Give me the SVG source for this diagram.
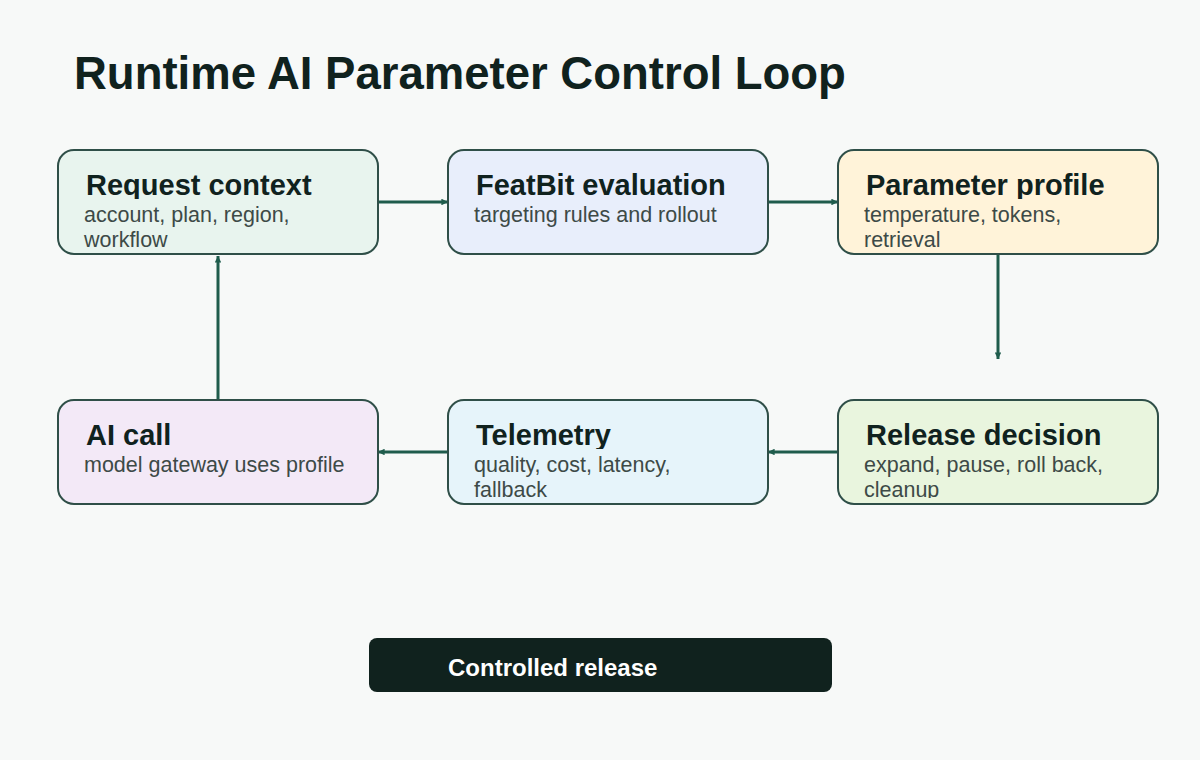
<svg xmlns="http://www.w3.org/2000/svg" width="1200" height="760" viewBox="0 0 1200 760">
<defs>
<marker id="ah" viewBox="0 0 6 6" refX="6" refY="3" markerWidth="2.2" markerHeight="2.2" orient="auto"><path d="M0,0 L6,3 L0,6 z" fill="#1f5c4c"/></marker>
<clipPath id="ct1"><rect x="0" y="0" width="1200" height="199"/></clipPath>
<clipPath id="ct2"><rect x="0" y="0" width="1200" height="449"/></clipPath>
<clipPath id="cs1"><rect x="0" y="0" width="1200" height="248"/></clipPath>
<clipPath id="cs2"><rect x="0" y="0" width="1200" height="498"/></clipPath>
<style>
.node{stroke:#2f4f48;stroke-width:2}
.t{font-family:"Liberation Sans",Arial,sans-serif;font-weight:bold;font-size:29px;fill:#10221e}
.s{font-family:"Liberation Sans",Arial,sans-serif;font-size:21.5px;fill:#3d4a47}
.c{stroke:#1f5c4c;stroke-width:3;fill:none;marker-end:url(#ah)}
</style>
</defs>
<rect width="1200" height="760" fill="#f7f9f8"/>
<text x="74" y="89" font-family="Liberation Sans,Arial,sans-serif" font-weight="bold" font-size="45.5" fill="#10221e">Runtime AI Parameter Control Loop</text>
<g id="connectors">
<line class="c" x1="378" y1="202" x2="448" y2="202"/>
<line class="c" x1="768" y1="202" x2="838" y2="202"/>
<line class="c" x1="998" y1="254" x2="998" y2="359"/>
<line class="c" x1="838" y1="452" x2="768" y2="452"/>
<line class="c" x1="448" y1="452" x2="378" y2="452"/>
<line class="c" x1="218" y1="400" x2="218" y2="256"/>
</g>
<g id="request-context">
<rect class="node" x="58" y="150" width="320" height="104" rx="16" fill="#e8f4ee"/>
<text class="t" x="86" y="195" clip-path="url(#ct1)">Request context</text>
<g clip-path="url(#cs1)">
<text class="s" x="84" y="222">account, plan, region,</text>
<text class="s" x="84" y="247">workflow</text>
</g>
</g>
<g id="featbit-evaluation">
<rect class="node" x="448" y="150" width="320" height="104" rx="16" fill="#e8eefb"/>
<text class="t" x="476" y="195" clip-path="url(#ct1)">FeatBit evaluation</text>
<text class="s" x="474" y="222">targeting rules and rollout</text>
</g>
<g id="parameter-profile">
<rect class="node" x="838" y="150" width="320" height="104" rx="16" fill="#fff3d9"/>
<text class="t" x="866" y="195" clip-path="url(#ct1)">Parameter profile</text>
<g clip-path="url(#cs1)">
<text class="s" x="864" y="222">temperature, tokens,</text>
<text class="s" x="864" y="247">retrieval</text>
</g>
</g>
<g id="ai-call">
<rect class="node" x="58" y="400" width="320" height="104" rx="16" fill="#f3e9f7"/>
<text class="t" x="86" y="445" clip-path="url(#ct2)">AI call</text>
<text class="s" x="84" y="472">model gateway uses profile</text>
</g>
<g id="telemetry">
<rect class="node" x="448" y="400" width="320" height="104" rx="16" fill="#e6f4fa"/>
<text class="t" x="476" y="445" clip-path="url(#ct2)">Telemetry</text>
<g clip-path="url(#cs2)">
<text class="s" x="474" y="472">quality, cost, latency,</text>
<text class="s" x="474" y="497">fallback</text>
</g>
</g>
<g id="release-decision">
<rect class="node" x="838" y="400" width="320" height="104" rx="16" fill="#e9f5de"/>
<text class="t" x="866" y="445" clip-path="url(#ct2)">Release decision</text>
<g clip-path="url(#cs2)">
<text class="s" x="864" y="472">expand, pause, roll back,</text>
<text class="s" x="864" y="497">cleanup</text>
</g>
</g>
<g id="controlled-release">
<rect x="369" y="638" width="463" height="54" rx="8" fill="#10221e"/>
<text x="448" y="676" font-family="Liberation Sans,Arial,sans-serif" font-weight="bold" font-size="24" fill="#ffffff">Controlled release</text>
</g>
</svg>
